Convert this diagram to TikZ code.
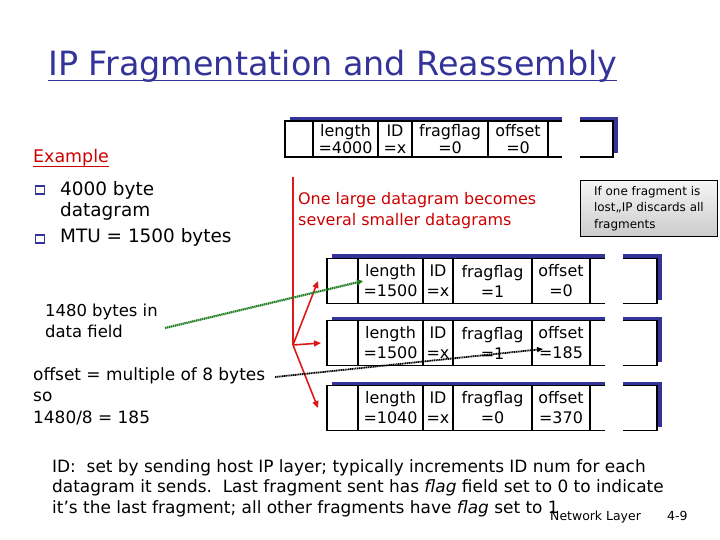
\documentclass[tikz,border=0pt]{standalone}
\usepackage{fontspec}
\setmainfont{DejaVu Sans}
\usetikzlibrary{arrows.meta,positioning}
\definecolor{slideblue}{HTML}{333399}
\definecolor{slidered}{HTML}{CC0000}
\definecolor{arrowred}{HTML}{DD1818}
\definecolor{notegreen}{HTML}{1E7D1E}

\begin{document}
\begin{tikzpicture}[x=1bp,y=-1bp,
  cell/.style={draw=black,line width=1.8pt,fill=white,outer sep=0pt,inner sep=0pt,align=center,anchor=west},
  bigcell/.style={cell,minimum height=36bp,font=\fontsize{16}{16.5}\selectfont},
  fragcell/.style={cell,minimum height=45bp,font=\fontsize{16}{20}\selectfont},
  redarrow/.style={arrowred,line width=1.6pt,-{Triangle[length=7pt,width=6pt]}},
  bulletbox/.style={draw=slideblue,line width=1.2pt,minimum width=9bp,minimum height=8bp,inner sep=0pt},
  notetext/.style={align=left,inner sep=0pt}]
\useasboundingbox (0,0) rectangle (720,540);

% Title
\node[anchor=base west,inner sep=0pt,text=slideblue,font=\fontsize{33.5}{36}\selectfont] (title) at (48,76) {IP Fragmentation and Reassembly};
\draw[slideblue,line width=1.6pt] ([yshift=-4.5bp]title.base west) -- ([yshift=-4.5bp]title.base east);

% Example list
\node[anchor=base west,inner sep=0pt,text=slidered,font=\fontsize{17.5}{20}\selectfont] (example) at (33,163) {Example};
\draw[slidered,line width=1.2pt] ([yshift=-3.5bp]example.base west) -- ([yshift=-3.5bp]example.base east);
\node[bulletbox] (bul1) at (40,190) {};
\node[bulletbox] (bul2) at (40,239) {};
\node[notetext,anchor=base west,font=\fontsize{18.5}{22}\selectfont] (item1) at (60,217) {4000 byte\\datagram};
\node[anchor=base west,inner sep=0pt,font=\fontsize{18.5}{22}\selectfont] (item2) at (60,243) {MTU = 1500 bytes};

% side notes
\node[notetext,anchor=base west,font=\fontsize{16.5}{21}\selectfont] (datanote) at (45,337) {1480 bytes in\\data field};
\node[notetext,anchor=base west,font=\fontsize{17}{21.5}\selectfont] (offnote) at (33,423) {offset = multiple of 8 bytes\\so\\1480/8 = 185};

% big datagram
\fill[slideblue] (290,117) rectangle (618,153);
\node[bigcell,minimum width=28bp] (bigpad) at (285,139) {};
\node[bigcell,minimum width=65bp,right=0pt of bigpad] (biglen) {length\\=4000};
\node[bigcell,minimum width=34bp,right=0pt of biglen] (bigid) {ID\\=x};
\node[bigcell,minimum width=76bp,right=0pt of bigid] (bigflag) {fragflag\\=0};
\node[bigcell,minimum width=60bp,right=0pt of bigflag] (bigoff) {offset\\=0};
\node[bigcell,minimum width=65bp,right=0pt of bigoff] (bigend) {};
\fill[white] (562,113) rectangle (580,159);

\node[anchor=west,inner sep=0pt,align=left,text=slidered,font=\fontsize{16}{21}\selectfont] (splitnote) at (298,211) {One large datagram becomes\\several smaller datagrams};
\node[draw=black,line width=0.8pt,top color=gray!8,bottom color=gray!40,minimum width=137bp,minimum height=56bp,anchor=north west,align=left,inner sep=3bp,font=\fontsize{12}{16.5}\selectfont] (lostnote) at (580,180) {If one fragment is\\lost,,IP discards all\\fragments};

% fragments
\foreach \y/\len/\flag/\off [count=\i] in {281/1500/1/0,343/1500/1/185,408/1040/0/370}{
  \fill[slideblue] (332,\y-26.5) rectangle (662,\y+18.5);
  \node[fragcell,minimum width=31bp] (pad\i) at (327,\y) {};
  \node[fragcell,minimum width=65bp,right=0pt of pad\i] (len\i) {length\\=\len};
  \node[fragcell,minimum width=30bp,right=0pt of len\i] (id\i) {ID\\=x};
  \node[fragcell,minimum width=79bp,right=0pt of id\i] (flag\i) {fragflag\\=\flag};
  \node[fragcell,minimum width=58bp,right=0pt of flag\i] (off\i) {offset\\=\off};
  \node[fragcell,minimum width=67bp,right=0pt of off\i] (end\i) {};
  \fill[white] (605,\y-31) rectangle (623,\y+24);
}

% splitting arrows
\coordinate (redtop) at (293,177);
\coordinate (split) at (293,345);
\draw[arrowred,line width=1.6pt] (redtop) -- (split);
\draw[redarrow] (split) -- ([xshift=-9bp]pad1.west);
\draw[redarrow] (split) -- ([xshift=-6bp]pad2.west);
\draw[redarrow] (split) -- ([xshift=-9bp]pad3.west);

\coordinate (datatail) at (165,328);
\draw[notegreen,line width=2.2pt,dash pattern=on 1.4pt off 0.6pt,-{Triangle[length=6pt,width=6pt]}] (datatail) -- ([xshift=5bp]len1.west);
\coordinate (offtail) at (275,377);
\draw[black,line width=1.8pt,dash pattern=on 1.2pt off 0.6pt,-{Triangle[length=6pt,width=5pt]}] (offtail) -- ([shift={(11,6)}]off2.west);

% bottom remarks
\node[notetext,anchor=base west,font=\fontsize{17}{20.5}\selectfont] (idnote) at (52,513) {ID:\ \ set by sending host IP layer; typically increments ID num for each\\datagram it sends.\ \ Last fragment sent has \textit{flag} field set to 0 to indicate\\it's the last fragment; all other fragments have \textit{flag} set to 1};
\node[anchor=base west,inner sep=0pt,font=\fontsize{12.5}{14}\selectfont] (footer) at (550,520) {Network Layer};
\node[anchor=base west,inner sep=0pt,font=\fontsize{12.5}{14}\selectfont] (pagenum) at (667,520) {4-9};
\end{tikzpicture}
\end{document}
